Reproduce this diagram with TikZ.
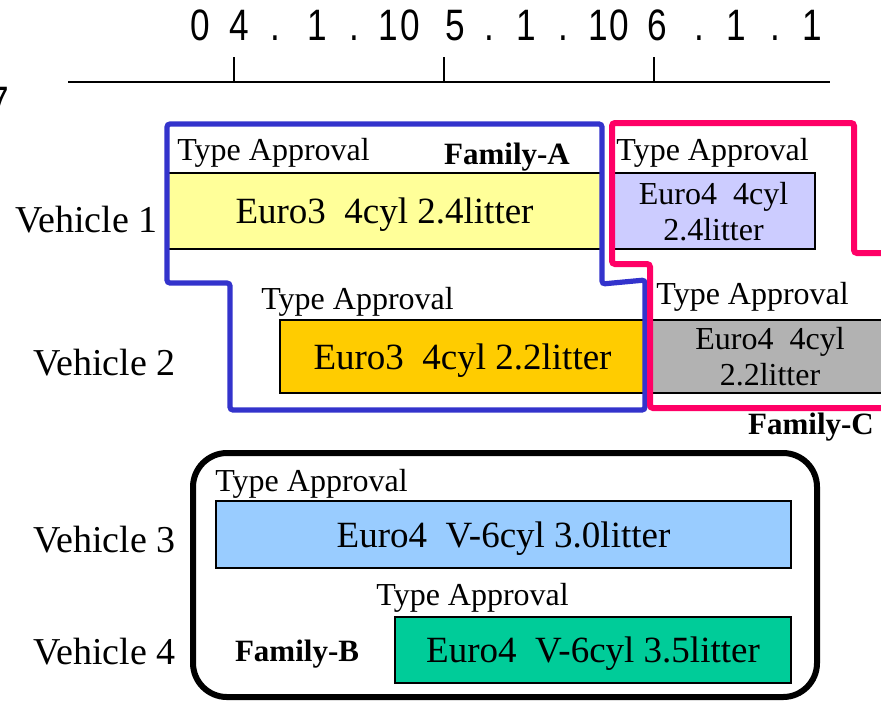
\documentclass[tikz,border=0pt]{standalone}
\usepackage{fontspec}
\setmainfont{Liberation Serif}
\newfontfamily\datefont[FakeStretch=0.8]{Liberation Sans}
\definecolor{famA}{HTML}{3333CC}
\definecolor{famC}{HTML}{FF0066}
\definecolor{euroA}{HTML}{FFFF99}
\definecolor{euroB}{HTML}{CCCCFF}
\definecolor{euroC}{HTML}{FFCC00}
\definecolor{euroD}{HTML}{B2B2B2}
\definecolor{euroE}{HTML}{99CCFF}
\definecolor{euroF}{HTML}{00CC99}

\begin{document}
\begin{tikzpicture}[x=0.5pt,y=-0.5pt,
		periodbox/.style={draw=black, line width=0.8pt, inner sep=0pt, text depth=0pt, align=center, font=\fontsize{18.5}{22}\selectfont},
		periodtwo/.style={periodbox, font=\fontsize{16}{18}\selectfont},
		tatext/.style={anchor=west, inner sep=0pt, font=\fontsize{16}{18}\selectfont},
		famtext/.style={inner sep=0pt, font=\bfseries\fontsize{15.5}{18}\selectfont},
		vehtext/.style={anchor=east, inner sep=0pt, font=\fontsize{19}{22}\selectfont},
		datetext/.style={anchor=base, inner sep=0pt, font=\datefont\fontsize{22}{24}\selectfont}]
		\useasboundingbox (0,0) rectangle (881,703);

		% time axis
		\draw[line width=1pt] (68,82) -- (830,82);
		\foreach \t in {234,444,654}
			\draw[line width=0.6pt] (\t,57) -- (\t,82);
		\foreach \c/\x in {0/200, 4/239, ./275, 1/317, ./354, 1/388, 0/410, 5/455, ./489, 1/526, ./563, 1/598, 0/619, 6/657, ./699, 1/736, ./775, 1/812}
			\node[datetext] (d\x) at (\x,40) {\c};
		\node[datetext, anchor=base east] (cut) at (9,117) {7};

		% vehicles
		\node[vehtext] (veh1) at (158,220) {Vehicle 1};
		\node[vehtext] (veh2) at (176,363) {Vehicle 2};
		\node[vehtext] (veh3) at (176,540) {Vehicle 3};
		\node[vehtext] (veh4) at (176,652) {Vehicle 4};

		% approvals
		\node[periodbox, fill=euroA, minimum width=217.5pt, minimum height=38pt] (e31) at (384.5,211) {Euro3~ 4cyl 2.4litter};
		\node[periodtwo, fill=euroB, minimum width=101.5pt, minimum height=38pt] (e41) at (713.5,211) {Euro4~ 4cyl\\2.4litter};
		\node[periodbox, fill=euroC, minimum width=182.5pt, minimum height=36.5pt] (e32) at (462.5,356.5) {Euro3~ 4cyl 2.2litter};
		\node[periodtwo, fill=euroD, minimum width=120pt, minimum height=36.5pt] (e42) at (770,356.5) {Euro4~ 4cyl\\2.2litter};
		\node[periodbox, fill=euroE, minimum width=287.5pt, minimum height=33.5pt] (e43) at (503.5,534.5) {Euro4~ V-6cyl 3.0litter};
		\node[periodbox, fill=euroF, minimum width=198pt, minimum height=33pt] (e44) at (593,650) {Euro4~ V-6cyl 3.5litter};

		\node[tatext] (ta1) at (177,153) {Type Approval};
		\node[tatext] (ta2) at (261,302) {Type Approval};
		\node[tatext] (ta3) at (616,153) {Type Approval};
		\node[tatext] (ta4) at (656,297) {Type Approval};
		\node[tatext] (ta5) at (215,484) {Type Approval};
		\node[tatext] (ta6) at (376,598) {Type Approval};

		% families
		\draw[famA, line width=2.6pt, rounded corners=1.5pt] (167,124) -- (602,124) -- (602,284) -- (645,280) -- (645,410) -- (230,410) -- (230,283) -- (167,283) -- cycle;
		\draw[famC, line width=3pt, rounded corners=1.5pt] (890,253) -- (854,253) -- (854,123) -- (612,123) -- (612,264) -- (650,264) -- (650,408) -- (890,408);
		\draw[line width=3pt, rounded corners=17pt] (193,453) rectangle (817,697);

		\node[famtext] (fA) at (507,157) {Family-A};
		\node[famtext] (fC) at (811,427) {Family-C};
		\node[famtext] (fB) at (297,654) {Family-B};

	\end{tikzpicture}
\end{document}
